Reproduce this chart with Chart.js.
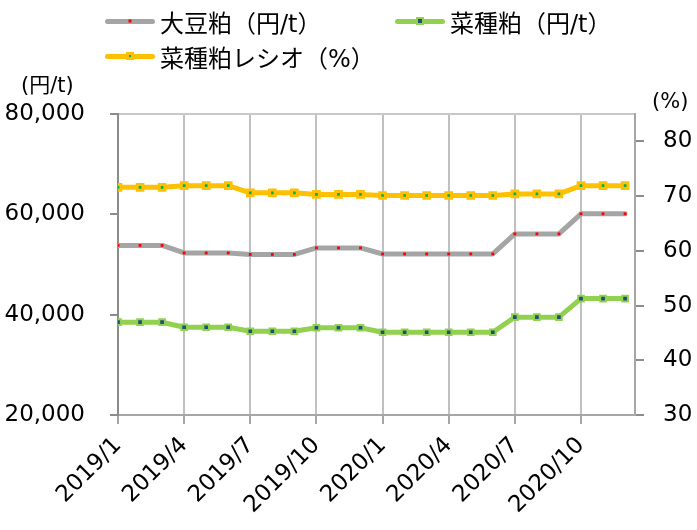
<!DOCTYPE html>
<html lang="ja">
<head>
  <meta charset="UTF-8" />
  <title>大豆粕・菜種粕価格</title>
  <script src="https://cdn.jsdelivr.net/npm/chart.js"></script>
  <style>
    body {
      margin: 0;
      font-family: "DejaVu Sans", "Noto Sans CJK JP", sans-serif;
      background: #fff;
    }

    .wrap {
      position: relative;
      width: 697px;
      height: 530px;
    }

    .legend-item {
      position: absolute;
      height: 34px;
      display: flex;
      align-items: center;
      font-size: 24px;
      color: #000;
      white-space: nowrap;
    }

    .legend-line {
      position: relative;
      width: 50px;
      height: 5px;
      border-radius: 3px;
      margin-right: 5px;
    }

    .legend-mark {
      position: absolute;
      left: 50%;
      top: 50%;
      transform: translate(-50%, -50%);
      box-sizing: border-box;
    }

    .unit {
      position: absolute;
      font-size: 21px;
      color: #000;
    }
  </style>
</head>
<body>
  <div class="wrap">
    <canvas id="priceChart" width="697" height="530"></canvas>
    <div id="legend"></div>
    <div class="unit" style="left:21px; top:68px;">(円/t)</div>
    <div class="unit" style="left:652px; top:89px;">(%)</div>
  </div>

  <script>
    const months = [
      '2019/1', '2019/2', '2019/3', '2019/4', '2019/5', '2019/6',
      '2019/7', '2019/8', '2019/9', '2019/10', '2019/11', '2019/12',
      '2020/1', '2020/2', '2020/3', '2020/4', '2020/5', '2020/6',
      '2020/7', '2020/8', '2020/9', '2020/10', '2020/11', '2020/12'
    ];
    const labelMonths = [0, 3, 6, 9, 12, 15, 18, 21];

    const soyMeal = [53800, 53800, 53800, 52300, 52300, 52300, 52000, 52000, 52000, 53300, 53300, 53300,
                     52100, 52100, 52100, 52100, 52100, 52100, 56100, 56100, 56100, 60100, 60100, 60100];
    const rapeMeal = [38500, 38500, 38500, 37500, 37500, 37500, 36700, 36700, 36700, 37400, 37400, 37400,
                      36500, 36500, 36500, 36500, 36500, 36500, 39500, 39500, 39500, 43200, 43200, 43200];
    const rapeRatio = [71.6, 71.6, 71.6, 71.9, 71.9, 71.9, 70.6, 70.6, 70.6, 70.3, 70.3, 70.3,
                       70.1, 70.1, 70.1, 70.1, 70.1, 70.1, 70.4, 70.4, 70.4, 71.9, 71.9, 71.9];

    const yenTicks = [20000, 40000, 60000, 80000];
    const pctTicks = [30, 40, 50, 60, 70, 80];

    const fontFamily = '"DejaVu Sans", "Noto Sans CJK JP", sans-serif';
    Chart.defaults.font.family = fontFamily;
    Chart.defaults.color = '#000';

    const toXY = arr => arr.map((v, i) => ({ x: i, y: v }));

    const series = [
      { label: '大豆粕（円/t）', data: soyMeal, axis: 'y', color: '#a5a5a5',
        mark: { size: 3, bg: '#ff0000', border: '#ff0000', bw: 0 }, radius: 2, pbw: 0,
        left: 105, top: 4 },
      { label: '菜種粕（円/t）', data: rapeMeal, axis: 'y', color: '#92d050',
        mark: { size: 8, bg: '#1f4e79', border: '#92d050', bw: 2 }, radius: 4, pbw: 2,
        left: 395, top: 4 },
      { label: '菜種粕レシオ（%）', data: rapeRatio, axis: 'y1', color: '#ffc000',
        mark: { size: 8, bg: '#00b050', border: '#ffc000', bw: 3 }, radius: 4, pbw: 3,
        left: 105, top: 39 }
    ];

    // legend in html, laid out like the original
    const legendEl = document.getElementById('legend');
    series.forEach(s => {
      const item = document.createElement('div');
      item.className = 'legend-item';
      item.style.left = s.left + 'px';
      item.style.top = s.top + 'px';
      item.innerHTML =
        `<span class="legend-line" style="background:${s.color}">` +
        `<span class="legend-mark" style="width:${s.mark.size}px;height:${s.mark.size}px;` +
        `background:${s.mark.bg};border:${s.mark.bw}px solid ${s.mark.border}"></span></span>` +
        `<span>${s.label}</span>`;
      legendEl.appendChild(item);
    });

    const ctx = document.getElementById('priceChart').getContext('2d');
    new Chart(ctx, {
      type: 'line',
      data: {
        datasets: series.map(s => ({
          label: s.label,
          data: toXY(s.data),
          yAxisID: s.axis,
          borderColor: s.color,
          borderWidth: 5,
          borderJoinStyle: 'round',
          borderCapStyle: 'round',
          tension: 0,
          pointStyle: 'rect',
          pointRadius: s.radius,
          pointBackgroundColor: s.mark.bg,
          pointBorderColor: s.mark.border,
          pointBorderWidth: s.pbw
        }))
      },
      options: {
        responsive: false,
        animation: false,
        layout: { padding: { top: 114, left: 0, right: 0, bottom: 0 } },
        plugins: {
          legend: { display: false },
          tooltip: { enabled: false }
        },
        scales: {
          x: {
            type: 'linear',
            min: 0,
            max: 23.45,
            afterBuildTicks: s => { s.ticks = labelMonths.map(v => ({ value: v })); },
            afterFit: s => { s.height = 115; },
            ticks: {
              autoSkip: false,
              minRotation: 45,
              maxRotation: 45,
              padding: 8,
              font: { size: 23 },
              color: '#000',
              callback: v => months[v]
            },
            grid: { color: '#c0c0c0', lineWidth: 2, tickLength: 9, tickColor: '#a6a6a6' },
            border: { color: '#a6a6a6', width: 2 }
          },
          y: {
            position: 'left',
            min: 20000,
            max: 80000,
            afterBuildTicks: s => { s.ticks = yenTicks.map(v => ({ value: v })); },
            afterFit: s => { s.width = 118; },
            ticks: {
              padding: 25,
              font: { size: 23 },
              color: '#000',
              callback: v => v.toLocaleString('en-US')
            },
            grid: {
              color: c => (c.tick && c.tick.value === 80000) ? '#c8c8c8' : 'rgba(0,0,0,0)',
              lineWidth: 2,
              tickLength: 8,
              tickColor: '#8c8c8c'
            },
            border: { color: '#8c8c8c', width: 2 }
          },
          y1: {
            position: 'right',
            min: 30,
            max: 85,
            afterBuildTicks: s => { s.ticks = pctTicks.map(v => ({ value: v })); },
            afterFit: s => { s.width = 62; },
            ticks: {
              padding: 19,
              font: { size: 23 },
              color: '#000'
            },
            grid: { drawOnChartArea: false, lineWidth: 2, tickLength: 9, tickColor: '#8c8c8c' },
            border: { color: '#a6a6a6', width: 2 }
          }
        }
      }
    });
  </script>
</body>
</html>
